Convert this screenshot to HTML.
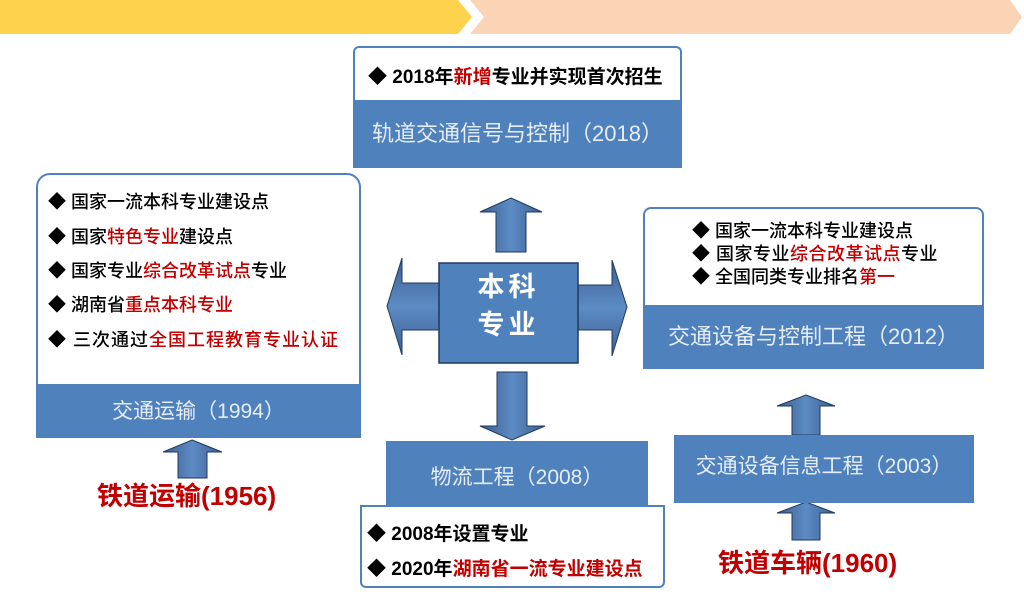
<!DOCTYPE html>
<html><head><meta charset="utf-8"><style>
body{margin:0;width:1024px;height:610px;background:#fff;position:relative;overflow:hidden;font-family:"Liberation Sans","Noto Sans CJK SC",sans-serif}
.a{position:absolute;box-sizing:border-box}
.wb{background:#fff;border:2px solid #4f81bd}
.bl{background:#4f81bd;color:#e6edf6;text-align:center;white-space:nowrap}
.r{color:#c00000}
.li{position:absolute;font-size:18px;color:#000;white-space:nowrap;font-weight:500}
</style></head><body>
<svg class="a" style="left:0;top:0" width="1024" height="610">
<polygon points="0,0 458,0 472,17 458,34 0,34" fill="#fdd24c"/>
<polygon points="470,0 1010,0 1022,17 1010,34 470,34 484,17" fill="#fbd4b6"/>
<defs><linearGradient id="g" x1="0" x2="1"><stop offset="0" stop-color="#3b6092"/><stop offset="0.5" stop-color="#5d8bc4"/><stop offset="1" stop-color="#3b6092"/></linearGradient>
<linearGradient id="gv" x1="0" y1="0" x2="0" y2="1"><stop offset="0" stop-color="#3b6092"/><stop offset="0.5" stop-color="#5d8bc4"/><stop offset="1" stop-color="#3b6092"/></linearGradient></defs>
<g fill="url(#g)" stroke="#1f3a60" stroke-width="1">
<polygon points="511,198 542,212 526,212 526,252 496,252 496,212 480,212"/>
<polygon points="497,372 527,372 527,426 545,426 512,440 480,426 497,426"/>
<polygon points="192,440 222,452 207,452 207,478 178,478 178,452 163,452"/>
<polygon points="806,395 835,406 820,406 820,435 792,435 792,406 777,406"/>
<polygon points="806,502 835,513 820,513 820,540 792,540 792,513 777,513"/>
</g>
<g fill="url(#gv)" stroke="#1f3a60" stroke-width="1">
<polygon points="387,306 402,258 402,283 440,283 440,330 402,330 402,355"/>
<polygon points="627,307 612,260 612,285 578,285 578,330 612,330 612,356"/>
</g>
<rect x="439" y="263" width="139" height="100" fill="#4f81bd" stroke="#1f3a60" stroke-width="1.5"/>
</svg>
<div class="a" style="left:439px;top:268px;width:139px;text-align:center;color:#fff;font-size:27px;font-weight:bold;line-height:38px;letter-spacing:4px">本科<br>专业</div>

<div class="a wb" style="left:353px;top:46px;width:329px;height:122px;border-radius:6px 6px 0 0"></div>
<div class="li" style="left:368px;top:62px;font-size:19px">◆ <b>2018年<span class="r">新增</span>专业并实现首次招生</b></div>
<div class="a bl" style="left:353px;top:100px;width:329px;height:68px;line-height:68px;font-size:22px">轨道交通信号与控制（2018）</div>

<div class="a wb" style="left:36px;top:173px;width:325px;height:265px;border-radius:14px 14px 0 0"></div>
<div class="li r" style="left:48px;top:188px">◆ 国家一流本科专业建设点</div>
<div class="li" style="left:48px;top:223px">◆ 国家<span class="r">特色专业</span>建设点</div>
<div class="li" style="left:48px;top:257px">◆ 国家专业<span class="r">综合改革试点</span>专业</div>
<div class="li" style="left:48px;top:291px">◆ 湖南省<span class="r">重点本科专业</span></div>
<div class="li" style="left:48px;top:326px;letter-spacing:1px">◆ 三次通过<span class="r">全国工程教育专业认证</span></div>
<div class="a bl" style="left:36px;top:384px;width:325px;height:54px;line-height:56px;font-size:21px">交通运输（1994）</div>
<div class="a r" style="left:97px;top:476px;font-size:26px;font-weight:bold">铁道运输(1956)</div>

<div class="a wb" style="left:643px;top:207px;width:341px;height:162px;border-radius:8px 8px 0 0"></div>
<div class="li r" style="left:692px;top:217px">◆ 国家一流本科专业建设点</div>
<div class="li" style="left:692px;top:240px;letter-spacing:0.5px">◆ 国家专业<span class="r">综合改革试点</span>专业</div>
<div class="li" style="left:692px;top:263px">◆ 全国同类专业排名<span class="r">第一</span></div>
<div class="a bl" style="left:643px;top:305px;width:341px;height:64px;line-height:64px;font-size:22px">交通设备与控制工程（2012）</div>

<div class="a bl" style="left:674px;top:435px;width:300px;height:68px;line-height:64px;font-size:21px">交通设备信息工程（2003）</div>
<div class="a r" style="left:718px;top:543px;font-size:26px;font-weight:bold">铁道车辆(1960)</div>

<div class="a bl" style="left:386px;top:441px;width:262px;height:67px;line-height:74px;font-size:21px">物流工程（2008）</div>
<div class="a wb" style="left:360px;top:505px;width:305px;height:83px;border-radius:0 0 6px 6px"></div>
<div class="li" style="left:367px;top:519px;font-size:19px">◆ <b>2008年设置专业</b></div>
<div class="li" style="left:367px;top:554px;font-size:19px">◆ <b>2020年<span class="r">湖南省一流专业建设点</span></b></div>
</body></html>
